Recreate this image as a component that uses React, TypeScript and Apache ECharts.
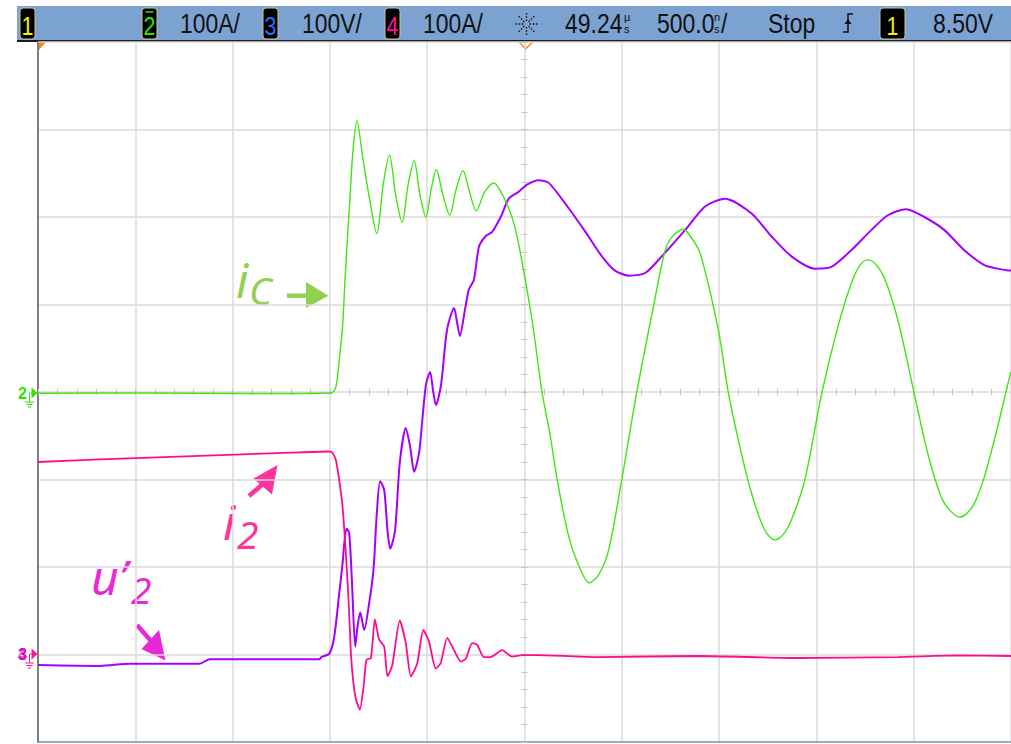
import React, { useEffect, useRef } from "react";
import * as echarts from "echarts";

// Time base: ns relative to the screen centre, 500 ns/div, 10 divisions
const TIME_MIN = -2500;
const TIME_MAX = 2500;
const TIME_DIV = 500;

// Channel 2 (i_C), 100 A/div, ground at screen centre
const CH2_MIN = -400;
const CH2_MAX = 400;
// Channels 3 (u'_2, 100 V/div) and 4 (i_2, 100 A/div), ground 3 div below centre
const CH34_MIN = -100;
const CH34_MAX = 700;
const VERT_DIV = 100;

// i_C  [ns] / [A]
const icTime = [-2500, -1926, -1413, -994, -969, -952, -935, -921, -894, -881, -861, -832, -798, -759, -726, -694, -662, -629, -598, -567, -537, -507, -480, -453, -419, -384, -352, -316, -283, -248, -204, -157, -122, -89, -60, -29, 39, 90, 133, 167, 227, 278, 333, 381, 432, 500, 577, 663, 723, 765, 817, 852, 902, 996, 1047, 1107, 1167, 1235, 1287, 1329, 1372, 1440, 1529, 1611, 1679, 1724, 1761, 1801, 1850, 1919, 2001, 2072, 2141, 2185, 2235, 2272, 2312, 2363, 2431, 2487, 2500];
const icAmps = [-1.5, -1.1, -1.7, -1.1, 6, 37, 75, 134, 233, 277, 310, 269, 223, 181, 237, 271, 225, 194, 237, 264, 225, 200, 231, 254, 225, 202, 231, 253, 229, 207, 229, 239, 229, 214, 197, 168, 82, 0, -51, -99, -165, -198, -218, -209, -181, -100, 0, 98, 162, 179, 186, 178, 159, 71, 0, -63, -116, -158, -169, -163, -146, -101, 0, 75, 124, 145, 151, 147, 130, 82, 0, -70, -120, -135, -143, -139, -127, -97, -40, 12, 23];

// u'_2  [ns] / [V]
const u2Time = [-2500, -2182, -2028, -1670, -1617, -1207, -1054, -1044, -1003, -978, -952, -935, -926, -914, -901, -887, -870, -858, -844, -824, -798, -776, -759, -742, -721, -704, -690, -665, -641, -610, -588, -567, -542, -525, -506, -485, -470, -455, -429, -398, -362, -347, -332, -306, -286, -260, -234, -200, -166, -118, -81, -29, 13, 73, 125, 227, 313, 398, 463, 535, 620, 705, 825, 928, 1030, 1167, 1269, 1372, 1492, 1577, 1679, 1782, 1867, 1961, 2055, 2158, 2260, 2363, 2431, 2487, 2500];
const u2Volts = [-12, -13, -10.5, -10.5, -5.5, -5.5, -5.5, -3, 1, 20, 70, 104, 127, 144, 139, 85, 9, 32, 48, 28, 59, 97, 161, 198, 188, 142, 121, 142, 219, 259, 238, 209, 230, 268, 309, 323, 302, 285, 308, 371, 396, 380, 364, 394, 417, 428, 466, 478, 483, 502, 521, 529, 537, 542, 539, 510, 483, 455, 439, 433, 436, 455, 485, 512, 521, 504, 478, 455, 441, 443, 462, 485, 502, 509, 500, 485, 462, 445, 441, 439, 439];

// i_2  [ns] / [A]
const i2Time = [-2500, -2182, -1670, -1157, -1003, -986, -969, -952, -935, -918, -904, -892, -879, -865, -846, -827, -812, -789, -769, -747, -721, -704, -679, -641, -610, -584, -551, -520, -491, -456, -431, -397, -362, -328, -302, -269, -243, -209, -174, -115, -64, -12, 73, 381, 893, 1406, 1919, 2226, 2500];
const i2Amps = [220, 223, 227, 231, 232, 230, 222, 199, 169, 116, 62, 1, -33, -52, -63, -37, -6, -4, 40, 17, 9, -25, -12, 39, 13, -25, -10, 28, 15, -16, -10, 19, 5, -8, -5, 13, 11, -3, -3, 5, -2.5, -0.6, -0.6, -2.9, -1.7, -4, -2.9, -1.1, -1.7];

// Status bar texts
const ch2Scale = "100A/";
const ch3Scale = "100V/";
const ch4Scale = "100A/";
const delayText = "49.24";
const timebaseText = "500.0";
const runState = "Stop";
const triggerLevel = "8.50V";

const zip = (xs: number[], ys: number[]) => xs.map((x, i) => [x, ys[i]]);

// Status bar font: Arial-metric face, horizontally compressed
const BAR_FONT = '"Liberation Sans", Arial, sans-serif';
const BAR_SCALE = 0.82;
const ANNO = '"Noto Sans", "Open Sans", sans-serif';

const GRID_COLOR = "#dadada";
const TICK_COLOR = "#c4c4c4";
const ORANGE = "#f5861f";

function narrowText(text: string, x: number, y: number, size: number, color: string, align = "left"): any {
  return {
    type: "text",
    x,
    y,
    scaleX: BAR_SCALE,
    style: { text, x: 0, y: 0, align, verticalAlign: "middle", font: `${size}px ${BAR_FONT}`, fill: color },
  };
}

function chanBox(x: number, w: number, label: string, color: string, overline = false): any[] {
  const els: any[] = [
    {
      type: "rect",
      shape: { x, y: 8, width: w, height: 31, r: 3 },
      style: { fill: "#000", stroke: "#c9c39a", lineWidth: 1 },
    },
    narrowText(label, x + w / 2, 25.5, 26, color, "center"),
  ];
  if (overline) {
    els.push({
      type: "line",
      shape: { x1: x + w / 2 - 4, y1: 12, x2: x + w / 2 + 4, y2: 12 },
      style: { stroke: color, lineWidth: 1.5 },
    });
  }
  return els;
}

function barText(text: string, x: number): any {
  return narrowText(text, x, 23.5, 28, "#111");
}

function smallText(text: string, x: number, y: number): any {
  return {
    type: "text",
    style: { text, x, y, align: "left", verticalAlign: "middle", font: `11px ${BAR_FONT}`, fill: "#111" },
  };
}

function groundMarker(y: number, color: string): any[] {
  return [
    { type: "polygon", shape: { points: [[31.5, y - 5.5], [37.5, y], [31.5, y + 5.5]] }, style: { fill: color } },
    { type: "line", shape: { x1: 29.5, y1: y, x2: 31.5, y2: y }, style: { stroke: color, lineWidth: 1 } },
    { type: "line", shape: { x1: 29.5, y1: y, x2: 29.5, y2: y + 9 }, style: { stroke: color, lineWidth: 1 } },
    { type: "line", shape: { x1: 25, y1: y + 9, x2: 34, y2: y + 9 }, style: { stroke: color, lineWidth: 1 } },
    { type: "line", shape: { x1: 26.5, y1: y + 11.5, x2: 32.5, y2: y + 11.5 }, style: { stroke: color, lineWidth: 1 } },
    { type: "line", shape: { x1: 28, y1: y + 14, x2: 31, y2: y + 14 }, style: { stroke: color, lineWidth: 1 } },
  ];
}

function markerText(text: string, y: number, color: string, opacity = 1): any {
  return {
    type: "text",
    style: { text, x: 18, y, align: "left", verticalAlign: "middle", font: `bold 16px ${BAR_FONT}`, fill: color, opacity },
  };
}

function annoText(text: string, x: number, y: number, size: number, color: string): any {
  return {
    type: "text",
    style: { text, x, y, align: "left", verticalAlign: "bottom", font: `italic ${size}px ${ANNO}`, fill: color },
  };
}

function arrow(x1: number, y1: number, x2: number, y2: number, head: number[][], color: string): any[] {
  return [
    { type: "line", shape: { x1, y1, x2, y2 }, style: { stroke: color, lineWidth: 4.5 } },
    { type: "polygon", shape: { points: head }, style: { fill: color } },
  ];
}

function sunIcon(cx: number, cy: number): any[] {
  const els: any[] = [];
  for (let k = 0; k < 8; k++) {
    const a = (k * Math.PI) / 4;
    els.push({
      type: "line",
      shape: { x1: cx + Math.cos(a) * 3, y1: cy + Math.sin(a) * 3, x2: cx + Math.cos(a) * 12, y2: cy + Math.sin(a) * 12 },
      style: { stroke: "#111", lineWidth: 1.4, lineDash: [1.6, 1.6] },
    });
  }
  return els;
}

function buildGraphic(): any[] {
  const g: any[] = [];
  // status bar
  g.push({ type: "rect", shape: { x: 17, y: 6, width: 1000, height: 34 }, style: { fill: "#7ca2d2" } });
  g.push({ type: "rect", shape: { x: 17, y: 40, width: 1000, height: 2 }, style: { fill: "#1c1c1c" } });
  g.push(...chanBox(20, 15, "1", "#f5f000"));
  g.push(...chanBox(142, 15, "2", "#33e000", true));
  g.push(barText(ch2Scale, 180));
  g.push(...chanBox(263, 15, "3", "#2a6cff"));
  g.push(barText(ch3Scale, 302));
  g.push(...chanBox(385, 15, "4", "#ff1493"));
  g.push(barText(ch4Scale, 423));
  g.push(...sunIcon(526.5, 24));
  g.push(barText(delayText, 565));
  g.push(smallText("µ", 624, 17));
  g.push(smallText("s", 624, 29));
  g.push(barText(timebaseText, 657));
  g.push(smallText("n", 714, 17));
  g.push(smallText("s", 714, 29));
  g.push(barText("/", 721));
  g.push(barText(runState, 768));
  g.push({
    type: "polyline",
    shape: { points: [[843, 32], [848, 32], [848, 14], [853, 14]] },
    style: { stroke: "#111", lineWidth: 1.5, fill: null },
  });
  g.push({ type: "polygon", shape: { points: [[844.5, 24], [848, 19], [851.5, 24]] }, style: { fill: "#111" } });
  g.push(...chanBox(880, 25, "1", "#f5f000"));
  g.push(barText(triggerLevel, 933));

  // trigger markers
  g.push({ type: "polygon", shape: { points: [[38, 42], [46, 42], [38, 51]] }, style: { fill: ORANGE } });
  g.push({
    type: "polyline",
    shape: { points: [[519.5, 42.5], [525.7, 49], [532, 42.5]] },
    style: { stroke: ORANGE, lineWidth: 1.5, fill: null },
  });

  // channel ground markers
  g.push(markerText("2", 393, "#33e000"));
  g.push(...groundMarker(393, "#33e000"));
  g.push(markerText("3", 654, "#a000ff"));
  g.push(markerText("4", 654, "#ff1493", 0.75));
  g.push(...groundMarker(654, "#ff1493"));

  // annotations
  const green = "#92d050";
  const pink = "#ff3399";
  const magenta = "#e828d8";
  g.push(annoText("i", 236, 303, 48, green));
  g.push(annoText("C", 249, 309, 39, green));
  g.push(...arrow(287, 295.7, 309, 295.7, [[306, 282], [328.5, 295.7], [306, 308]], green));

  g.push(annoText("i", 223, 545, 48, pink));
  g.push(annoText("2", 237, 553, 39, pink));
  g.push(...arrow(249, 496, 264, 483, [[277.5, 465], [253.5, 478.5], [272, 494.5]], pink));

  g.push(annoText("u\u2019", 91, 600, 48, magenta));
  g.push(annoText("2", 131, 608, 37, magenta));
  g.push(...arrow(137, 625, 151, 641, [[165.5, 660.5], [141.5, 649], [159, 630]], magenta));
  return g;
}

export default function App() {
  const ref = useRef<HTMLDivElement>(null);

  useEffect(() => {
    if (!ref.current) return;
    const chart = echarts.init(ref.current, null, { renderer: "svg" });

    const hiddenValue = {
      axisLabel: { show: false },
      splitLine: { show: false },
      axisTick: { show: false },
      axisLine: { show: false, onZero: false },
    };
    const centreTicks = (inside: boolean, onZeroAxisIndex: number) => ({
      axisLabel: { show: false },
      splitLine: { show: false },
      axisLine: { show: false, onZero: true, onZeroAxisIndex },
      axisTick: { show: true, inside, length: 3, lineStyle: { color: TICK_COLOR, width: 1 } },
      minorTick: { show: true, splitNumber: 5, length: 3, lineStyle: { color: TICK_COLOR, width: 1 } },
    });

    chart.setOption({
      animation: false,
      backgroundColor: "#ffffff",
      grid: { left: 38, top: 42, width: 975.5, height: 700, show: false },
      xAxis: [
        {
          type: "value", min: TIME_MIN, max: TIME_MAX, interval: TIME_DIV, position: "bottom",
          axisLabel: { show: false },
          axisTick: { show: false },
          axisLine: { show: true, onZero: false, lineStyle: { color: "#8a97a8", width: 1.5 } },
          splitLine: { show: true, lineStyle: { color: GRID_COLOR, width: 1.5 } },
        },
        { type: "value", min: TIME_MIN, max: TIME_MAX, interval: TIME_DIV, position: "bottom", ...centreTicks(false, 0) },
        { type: "value", min: TIME_MIN, max: TIME_MAX, interval: TIME_DIV, position: "bottom", ...centreTicks(true, 0) },
      ],
      yAxis: [
        {
          type: "value", min: CH2_MIN, max: CH2_MAX, interval: VERT_DIV, position: "left",
          axisLabel: { show: false },
          axisTick: { show: false },
          axisLine: { show: true, onZero: false, lineStyle: { color: "#7f7f7f", width: 2 } },
          splitLine: { show: true, lineStyle: { color: GRID_COLOR, width: 1.5 } },
        },
        { type: "value", min: CH34_MIN, max: CH34_MAX, interval: VERT_DIV, ...hiddenValue },
        { type: "value", min: CH34_MIN, max: CH34_MAX, interval: VERT_DIV, ...hiddenValue },
        { type: "value", min: CH2_MIN, max: CH2_MAX, interval: VERT_DIV, position: "left", ...centreTicks(false, 0) },
        { type: "value", min: CH2_MIN, max: CH2_MAX, interval: VERT_DIV, position: "left", ...centreTicks(true, 0) },
      ],
      series: [
        {
          name: "u'2", type: "line", xAxisIndex: 0, yAxisIndex: 1, data: zip(u2Time, u2Volts),
          showSymbol: false, symbol: "none", smooth: 0.25,
          lineStyle: { color: "#a400ff", width: 2 }, z: 3,
        },
        {
          name: "i2", type: "line", xAxisIndex: 0, yAxisIndex: 2, data: zip(i2Time, i2Amps),
          showSymbol: false, symbol: "none", smooth: 0.2,
          lineStyle: { color: "#ff0c8e", width: 1.8 }, z: 4,
        },
        {
          name: "iC", type: "line", xAxisIndex: 0, yAxisIndex: 0, data: zip(icTime, icAmps),
          showSymbol: false, symbol: "none", smooth: 0.3,
          lineStyle: { color: "#3ee612", width: 1.4 }, z: 5,
        },
      ],
      graphic: buildGraphic(),
    });

    return () => chart.dispose();
  }, []);

  return (
    <div
      ref={ref}
      style={{ position: "fixed", left: 0, top: 0, width: 1011, height: 744, background: "#fff" }}
    />
  );
}
